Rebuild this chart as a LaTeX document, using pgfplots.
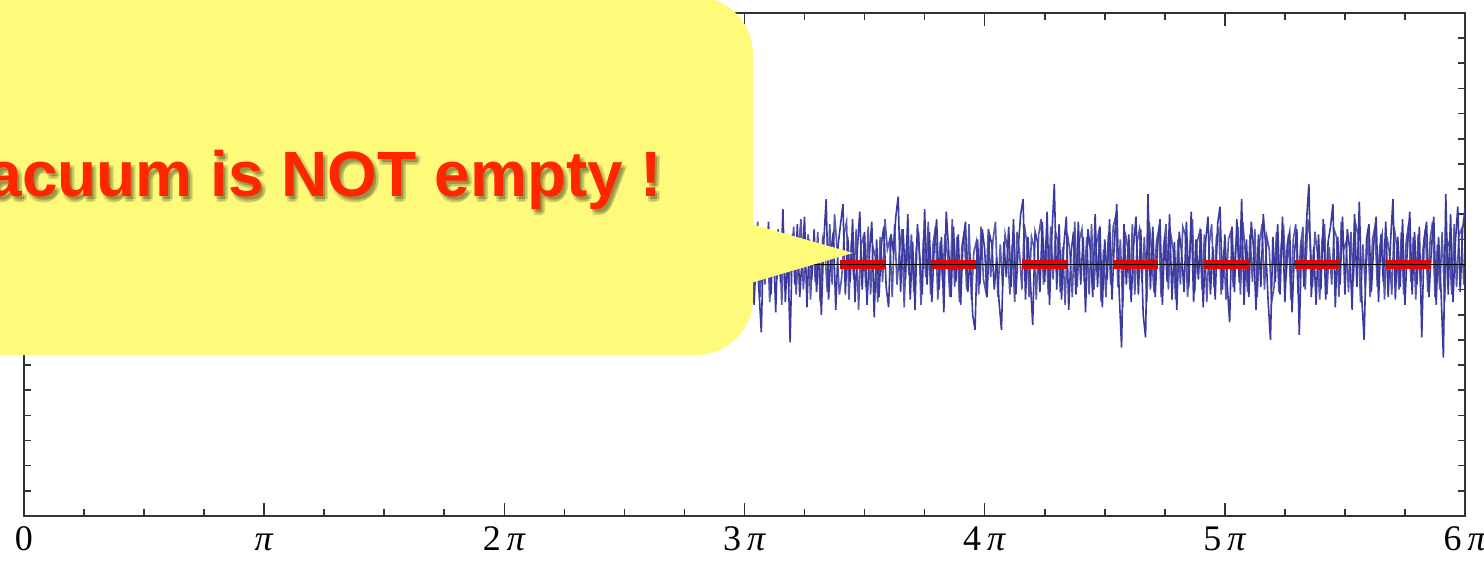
\documentclass[border=0pt]{standalone}
\usepackage{fontspec}
\setmainfont{Liberation Serif}
\newfontfamily\helv{Liberation Sans}
\usepackage{pgfplots}
\pgfplotsset{compat=1.18}
\definecolor{noiseblue}{RGB}{58,58,158}
\definecolor{calloutyellow}{RGB}{255,251,122}
\definecolor{textred}{RGB}{255,38,0}
\definecolor{dashred}{RGB}{235,0,0}
\begin{document}
\begin{tikzpicture}
\begin{axis}[
  scale only axis,
  width=720.5pt, height=251.5pt,
  xmin=0, xmax=6, ymin=-1, ymax=1,
  xtick={0,1,2,3,4,5,6},
  xticklabels={0,\textit{π},2\,\textit{π},3\,\textit{π},4\,\textit{π},5\,\textit{π},6\,\textit{π}},
  minor x tick num=3,
  ytick={-5},
  yticklabel=\empty,
  minor ytick={-0.9,-0.8,-0.7,-0.6,-0.5,-0.4,-0.3,-0.2,-0.1,0,0.1,0.2,0.3,0.4,0.5,0.6,0.7,0.8,0.9},
  tick pos=both,
  tick align=inside,
  major tick length=6.5pt,
  minor tick length=3.5pt,
  axis line style={black!80, line width=0.9pt},
  every tick/.style={black!80, line width=0.8pt},
  xticklabel style={font=\fontsize{18}{20}\selectfont, text height=12.5pt, text depth=0pt, yshift=-1pt},
  clip=true,
]
\addplot[noiseblue, line width=0.8pt] coordinates {
(2.90,0.08)(2.91,-0.12)(2.92,0.15)(2.93,-0.05)(2.94,0.10)(2.95,-0.18)(2.96,0.04)(2.97,0.12)(2.98,-0.09)(2.99,0.06)
(3.00,-0.14)(3.01,0.20)(3.02,-0.06)(3.03,0.11)(3.04,-0.16)(3.05,0.07)(3.06,-0.10)(3.07,-0.27)(3.08,0.13)(3.09,-0.04)
(3.10,0.17)(3.11,-0.12)(3.12,0.09)(3.13,-0.19)(3.14,0.14)(3.15,-0.07)(3.16,0.22)(3.17,-0.15)(3.18,0.05)(3.19,-0.31)
(3.20,0.12)(3.21,-0.08)(3.22,0.16)(3.23,-0.13)(3.24,0.03)(3.25,0.19)(3.26,-0.17)(3.27,0.10)(3.28,-0.06)(3.29,0.14)
(3.30,-0.11)(3.31,0.07)(3.32,-0.20)(3.33,0.09)(3.34,0.26)(3.35,-0.14)(3.36,0.05)(3.37,0.13)(3.38,-0.18)(3.39,0.08)
(3.40,0.16)(3.41,0.24)(3.42,-0.12)(3.43,0.11)(3.44,-0.07)(3.45,0.18)(3.46,-0.15)(3.47,0.06)(3.48,0.21)(3.49,-0.10)
(3.50,0.13)(3.51,-0.16)(3.52,0.04)(3.53,0.17)(3.54,-0.21)(3.55,0.10)(3.56,-0.13)(3.57,0.08)(3.58,0.15)(3.59,-0.09)
(3.60,-0.17)(3.61,0.12)(3.62,0.05)(3.63,0.19)(3.64,0.27)(3.65,-0.11)(3.66,0.14)(3.67,-0.06)(3.68,0.20)(3.69,-0.14)
(3.70,0.09)(3.71,-0.18)(3.72,0.16)(3.73,0.03)(3.74,-0.12)(3.75,0.22)(3.76,-0.08)(3.77,0.13)(3.78,-0.15)(3.79,0.07)
(3.80,0.18)(3.81,-0.10)(3.82,0.11)(3.83,-0.19)(3.84,0.21)(3.85,0.06)(3.86,-0.13)(3.87,0.15)(3.88,-0.07)(3.89,0.12)
(3.90,-0.16)(3.91,0.09)(3.92,0.17)(3.93,-0.11)(3.94,0.04)(3.95,-0.20)(3.96,-0.26)(3.97,0.10)(3.98,-0.08)(3.99,0.14)
(4.00,0.06)(4.01,-0.13)(4.02,0.12)(4.03,0.08)(4.04,-0.10)(4.05,0.03)(4.06,-0.15)(4.07,-0.26)(4.08,0.09)(4.09,-0.05)
(4.10,0.15)(4.11,-0.09)(4.12,0.18)(4.13,-0.12)(4.14,0.07)(4.15,0.20)(4.16,0.26)(4.17,-0.14)(4.18,0.11)(4.19,-0.06)
(4.20,-0.24)(4.21,0.13)(4.22,0.09)(4.23,-0.11)(4.24,0.17)(4.25,-0.07)(4.26,0.21)(4.27,-0.16)(4.28,0.12)(4.29,0.32)
(4.30,-0.10)(4.31,0.16)(4.32,-0.14)(4.33,0.08)(4.34,0.19)(4.35,-0.18)(4.36,0.05)(4.37,0.13)(4.38,-0.12)(4.39,0.17)
(4.40,-0.08)(4.41,0.11)(4.42,-0.19)(4.43,0.14)(4.44,0.06)(4.45,-0.13)(4.46,0.20)(4.47,-0.09)(4.48,0.15)(4.49,-0.17)
(4.50,0.10)(4.51,-0.06)(4.52,0.18)(4.53,-0.14)(4.54,0.09)(4.55,0.24)(4.56,-0.11)(4.57,-0.33)(4.58,0.16)(4.59,-0.08)
(4.60,0.12)(4.61,-0.15)(4.62,0.07)(4.63,0.19)(4.64,-0.12)(4.65,0.14)(4.66,-0.20)(4.67,-0.29)(4.68,0.28)(4.69,-0.10)
(4.70,0.15)(4.71,-0.13)(4.72,0.08)(4.73,0.18)(4.74,-0.16)(4.75,0.11)(4.76,-0.07)(4.77,0.20)(4.78,-0.14)(4.79,0.09)
(4.80,-0.18)(4.81,0.13)(4.82,0.05)(4.83,-0.11)(4.84,0.17)(4.85,-0.09)(4.86,0.21)(4.87,-0.15)(4.88,0.10)(4.89,-0.06)
(4.90,0.14)(4.91,-0.17)(4.92,0.09)(4.93,0.19)(4.94,-0.12)(4.95,0.07)(4.96,-0.14)(4.97,0.16)(4.98,0.23)(4.99,-0.10)
(5.00,0.12)(5.01,-0.08)(5.02,-0.23)(5.03,0.15)(5.04,-0.11)(5.05,0.18)(5.06,-0.07)(5.07,0.26)(5.08,-0.16)(5.09,0.10)
(5.10,-0.13)(5.11,0.17)(5.12,0.06)(5.13,-0.18)(5.14,0.12)(5.15,-0.09)(5.16,0.20)(5.17,0.08)(5.18,-0.14)(5.19,-0.30)
(5.20,0.11)(5.21,-0.07)(5.22,0.16)(5.23,-0.12)(5.24,0.19)(5.25,-0.15)(5.26,0.08)(5.27,0.13)(5.28,-0.19)(5.29,0.05)
(5.30,0.14)(5.31,-0.28)(5.32,0.10)(5.33,-0.09)(5.34,0.17)(5.35,0.32)(5.36,-0.13)(5.37,0.07)(5.38,-0.16)(5.39,0.12)
(5.40,-0.10)(5.41,0.18)(5.42,-0.14)(5.43,0.09)(5.44,0.15)(5.45,0.24)(5.46,-0.17)(5.47,0.11)(5.48,-0.08)(5.49,0.19)
(5.50,-0.12)(5.51,0.14)(5.52,0.06)(5.53,-0.18)(5.54,0.20)(5.55,-0.09)(5.56,0.25)(5.57,-0.13)(5.58,-0.30)(5.59,0.10)
(5.60,0.16)(5.61,-0.11)(5.62,0.08)(5.63,0.19)(5.64,-0.15)(5.65,0.12)(5.66,-0.07)(5.67,0.17)(5.68,-0.13)(5.69,0.09)
(5.70,0.26)(5.71,-0.14)(5.72,0.11)(5.73,-0.09)(5.74,0.18)(5.75,-0.16)(5.76,0.07)(5.77,0.21)(5.78,-0.12)(5.79,0.13)
(5.80,-0.08)(5.81,0.15)(5.82,-0.29)(5.83,0.10)(5.84,0.17)(5.85,-0.13)(5.86,0.06)(5.87,0.19)(5.88,-0.16)(5.89,0.11)
(5.90,-0.10)(5.91,-0.37)(5.92,0.28)(5.93,-0.12)(5.94,0.20)(5.95,-0.15)(5.96,0.09)(5.97,0.23)(5.98,-0.11)(5.99,0.14)
(6.00,0.22)
};
\addplot[noiseblue, line width=0.8pt, opacity=0.85] coordinates {
(2.905,-0.06)(2.915,0.11)(2.925,-0.14)(2.935,0.07)(2.945,-0.03)(2.955,0.13)(2.965,-0.10)(2.975,0.05)(2.985,0.16)(2.995,-0.12)
(3.005,0.09)(3.015,-0.05)(3.025,0.14)(3.035,-0.11)(3.045,0.06)(3.055,0.17)(3.065,-0.13)(3.075,0.04)(3.085,-0.08)(3.095,0.12)
(3.105,-0.15)(3.115,0.07)(3.125,0.10)(3.135,-0.06)(3.145,0.13)(3.155,-0.16)(3.165,0.08)(3.175,0.11)(3.185,-0.09)(3.195,0.05)
(3.205,0.15)(3.215,-0.12)(3.225,0.06)(3.235,0.18)(3.245,-0.10)(3.255,0.04)(3.265,0.12)(3.275,-0.14)(3.285,0.09)(3.295,-0.07)
(3.305,0.13)(3.315,-0.15)(3.325,0.10)(3.335,0.05)(3.345,-0.11)(3.355,0.16)(3.365,-0.08)(3.375,0.20)(3.385,0.07)(3.395,-0.12)
(3.405,-0.05)(3.415,0.12)(3.425,0.17)(3.435,-0.14)(3.445,0.09)(3.455,-0.06)(3.465,0.14)(3.475,-0.18)(3.485,0.08)(3.495,0.11)
(3.505,-0.09)(3.515,0.15)(3.525,-0.12)(3.535,0.07)(3.545,0.03)(3.555,-0.15)(3.565,0.11)(3.575,-0.07)(3.585,0.18)(3.595,0.06)
(3.605,0.10)(3.615,-0.13)(3.625,0.16)(3.635,-0.08)(3.645,0.05)(3.655,0.14)(3.665,-0.17)(3.675,0.09)(3.685,-0.04)(3.695,0.12)
(3.705,-0.11)(3.715,0.06)(3.725,0.13)(3.735,-0.16)(3.745,0.10)(3.755,-0.05)(3.765,0.17)(3.775,-0.12)(3.785,0.08)(3.795,0.15)
(3.805,-0.14)(3.815,0.09)(3.825,-0.07)(3.835,0.12)(3.845,0.04)(3.855,-0.13)(3.865,0.18)(3.875,-0.09)(3.885,0.11)(3.895,-0.15)
(3.905,0.07)(3.915,0.13)(3.925,-0.10)(3.935,0.16)(3.945,-0.14)(3.955,0.05)(3.965,0.09)(3.975,-0.12)(3.985,0.15)(3.995,-0.06)
(4.005,-0.11)(4.015,0.14)(4.025,-0.05)(4.035,0.10)(4.045,0.17)(4.055,-0.13)(4.065,0.08)(4.075,-0.09)(4.085,0.12)(4.095,0.06)
(4.105,-0.12)(4.115,0.08)(4.125,-0.15)(4.135,0.13)(4.145,0.05)(4.155,-0.10)(4.165,0.16)(4.175,0.09)(4.185,-0.13)(4.195,0.11)
(4.205,0.07)(4.215,-0.14)(4.225,0.12)(4.235,0.18)(4.245,-0.08)(4.255,0.10)(4.265,-0.12)(4.275,0.15)(4.285,-0.06)(4.295,0.13)
(4.305,0.09)(4.315,-0.11)(4.325,0.07)(4.335,-0.16)(4.345,0.12)(4.355,0.05)(4.365,-0.13)(4.375,0.17)(4.385,-0.09)(4.395,0.10)
(4.405,0.14)(4.415,-0.07)(4.425,0.11)(4.435,-0.12)(4.445,0.16)(4.455,-0.10)(4.465,0.08)(4.475,0.13)(4.485,-0.15)(4.495,0.06)
(4.505,-0.13)(4.515,0.12)(4.525,-0.08)(4.535,0.15)(4.545,0.19)(4.555,-0.09)(4.565,0.10)(4.575,-0.17)(4.585,0.13)(4.595,0.07)
(4.605,-0.10)(4.615,0.16)(4.625,-0.12)(4.635,0.09)(4.645,0.14)(4.655,-0.07)(4.665,0.11)(4.675,-0.15)(4.685,0.17)(4.695,0.05)
(4.705,-0.11)(4.715,0.09)(4.725,0.14)(4.735,-0.13)(4.745,0.07)(4.755,0.16)(4.765,-0.10)(4.775,0.12)(4.785,0.06)(4.795,-0.14)
(4.805,0.10)(4.815,-0.08)(4.825,0.15)(4.835,0.12)(4.845,-0.13)(4.855,0.07)(4.865,0.18)(4.875,-0.11)(4.885,0.09)(4.895,0.13)
(4.905,-0.10)(4.915,0.12)(4.925,-0.15)(4.935,0.08)(4.945,0.16)(4.955,-0.09)(4.965,0.11)(4.975,0.14)(4.985,-0.12)(4.995,0.06)
(5.005,-0.14)(5.015,0.10)(5.025,0.13)(5.035,-0.09)(5.045,0.07)(5.055,0.15)(5.065,-0.12)(5.075,0.17)(5.085,0.05)(5.095,-0.11)
(5.105,0.12)(5.115,-0.07)(5.125,0.14)(5.135,-0.13)(5.145,0.09)(5.155,0.16)(5.165,-0.10)(5.175,0.11)(5.185,0.06)(5.195,-0.15)
(5.205,-0.09)(5.215,0.13)(5.225,-0.11)(5.235,0.08)(5.245,0.14)(5.255,-0.06)(5.265,0.12)(5.275,-0.14)(5.285,0.10)(5.295,0.16)
(5.305,-0.12)(5.315,0.07)(5.325,0.15)(5.335,-0.10)(5.345,0.18)(5.355,0.11)(5.365,-0.09)(5.375,0.13)(5.385,0.05)(5.395,-0.14)
(5.405,0.10)(5.415,0.16)(5.425,-0.12)(5.435,0.07)(5.445,-0.08)(5.455,0.14)(5.465,0.11)(5.475,-0.13)(5.485,0.17)(5.495,0.06)
(5.505,0.09)(5.515,-0.11)(5.525,0.13)(5.535,-0.07)(5.545,0.16)(5.555,0.12)(5.565,-0.15)(5.575,0.08)(5.585,-0.10)(5.595,0.14)
(5.605,-0.13)(5.615,0.10)(5.625,0.15)(5.635,-0.09)(5.645,0.07)(5.655,0.12)(5.665,-0.14)(5.675,0.11)(5.685,0.05)(5.695,-0.12)
(5.705,0.15)(5.715,0.08)(5.725,-0.10)(5.735,0.13)(5.745,-0.12)(5.755,0.09)(5.765,0.16)(5.775,-0.07)(5.785,0.11)(5.795,-0.14)
(5.805,0.12)(5.815,-0.09)(5.825,0.06)(5.835,0.14)(5.845,-0.11)(5.855,0.10)(5.865,0.17)(5.875,-0.13)(5.885,0.08)(5.895,-0.10)
(5.905,0.13)(5.915,-0.15)(5.925,0.10)(5.935,0.07)(5.945,-0.12)(5.955,0.16)(5.965,-0.09)(5.975,0.12)(5.985,0.14)(5.995,-0.08)
};
\addplot[dashred, line width=4.5pt, dash pattern=on 22.5pt off 23pt, dash phase=1.5pt] coordinates {(0,0) (6,0)};
\addplot[black, line width=0.6pt] coordinates {(0,0) (6,0)};
\end{axis}
% callout
\fill[calloutyellow, rounded corners=28.5pt] (-60pt,80.5pt) rectangle (364.5pt,259.5pt);
\fill[calloutyellow] (360pt,147pt) -- (414.5pt,131.5pt) -- (360pt,115.5pt) -- cycle;
\foreach \dx/\dy in {1/-1.5, 2/-2.5, 1/-3, 2.5/-1.5}{
  \node[anchor=base west, inner sep=0pt, text=black, opacity=0.12, font=\helv\bfseries\fontsize{32}{36}\selectfont] at (-38.5pt+\dx pt,159.5pt+\dy pt) {Vacuum is NOT empty !};
}
\node[anchor=base west, inner sep=0pt, text=textred, font=\helv\bfseries\fontsize{32}{36}\selectfont] at (-38.5pt,159.5pt) {Vacuum is NOT empty !};
\pgfresetboundingbox
\useasboundingbox (-12pt,-24.5pt) rectangle (730pt,258pt);
\end{tikzpicture}
\end{document}
